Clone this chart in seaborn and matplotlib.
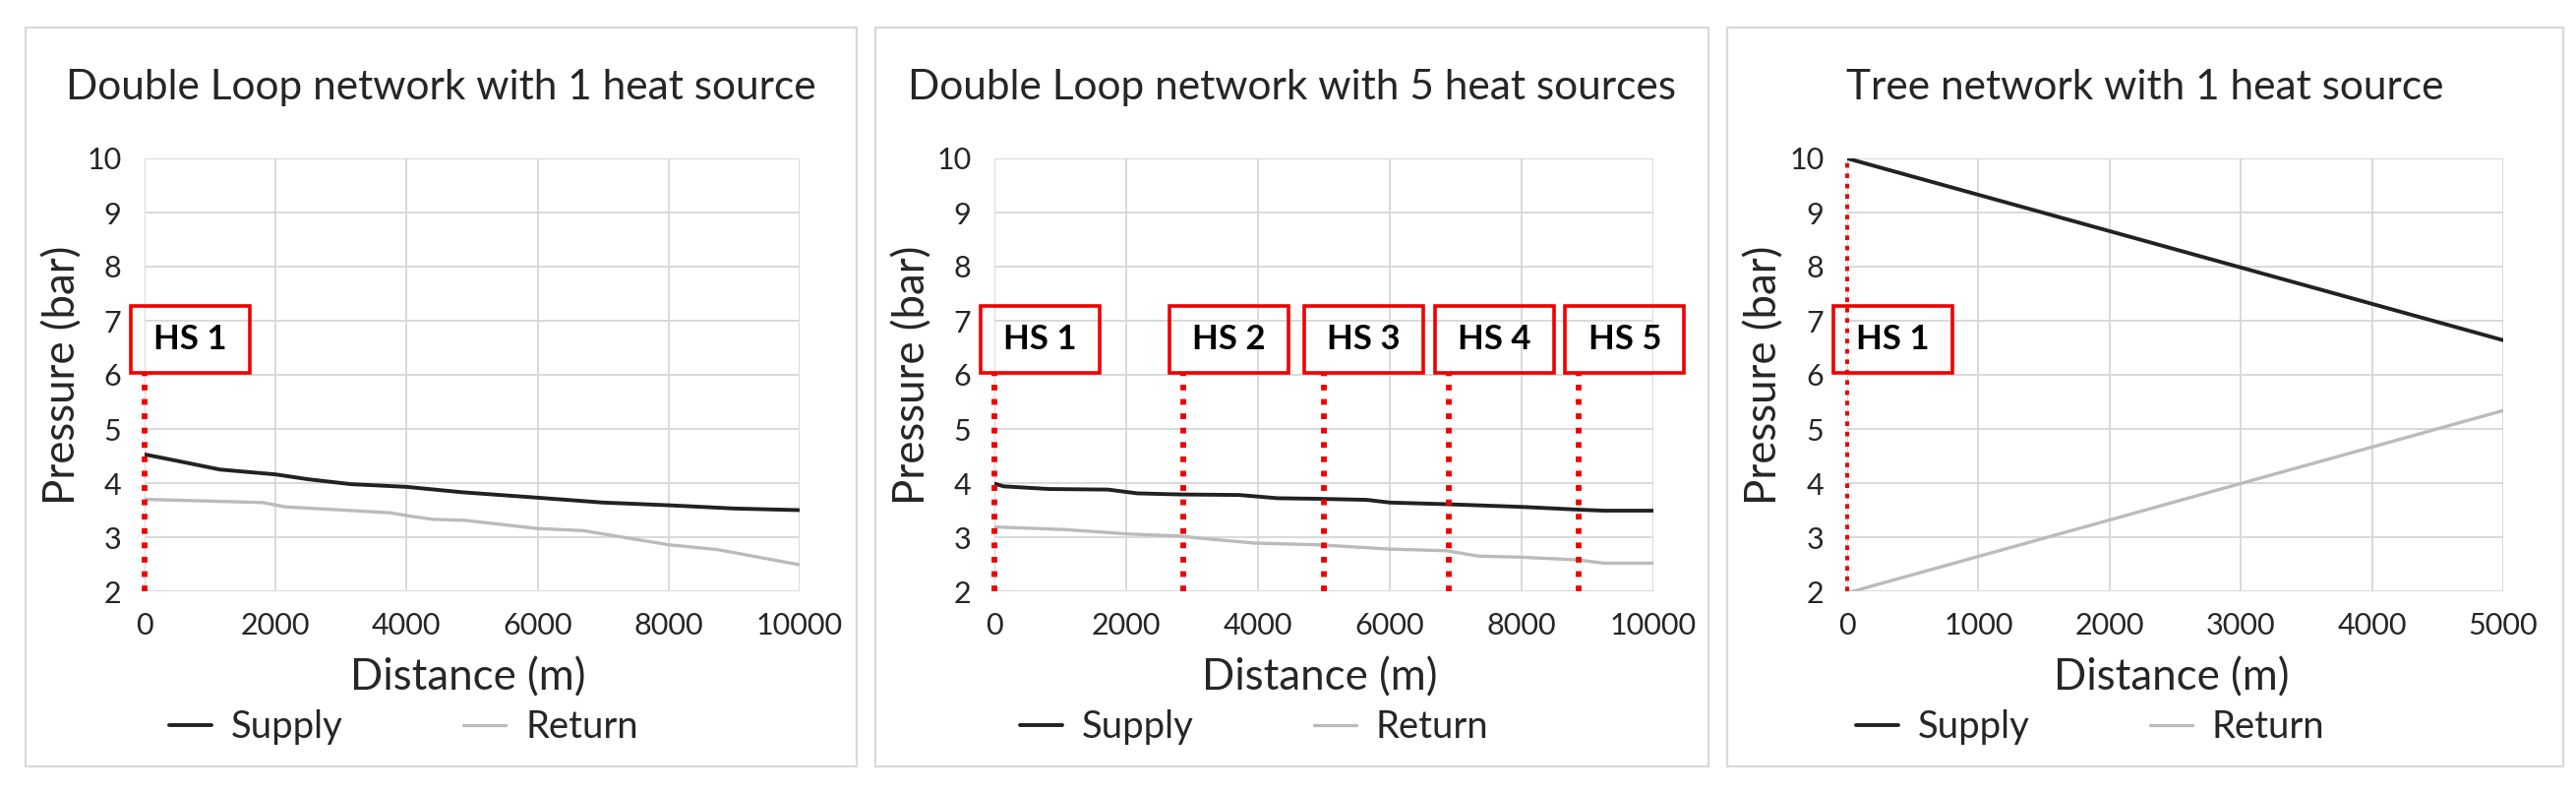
import numpy as np
import pandas as pd
import matplotlib
matplotlib.use("Agg")
import matplotlib.pyplot as plt
import seaborn as sns
from matplotlib.patches import Rectangle
from matplotlib.lines import Line2D

# ---------------- data ----------------
titles = ["Double Loop network with 1 heat source",
          "Double Loop network with 5 heat sources",
          "Tree network with 1 heat source"]

p1_sup_x = [0, 500, 1150, 2000, 2500, 3150, 4000, 4850, 6000, 7000, 8000, 9000, 10000]
p1_sup_y = [4.53, 4.41, 4.25, 4.16, 4.07, 3.98, 3.93, 3.83, 3.73, 3.64, 3.59, 3.53, 3.50]
p1_ret_x = [0, 900, 1800, 2150, 2900, 3750, 4050, 4400, 4900, 6000, 6700, 7350, 8000, 8750, 10000]
p1_ret_y = [3.70, 3.67, 3.64, 3.56, 3.51, 3.45, 3.39, 3.33, 3.31, 3.16, 3.12, 2.99, 2.86, 2.77, 2.49]

p2_sup_x = [0, 140, 830, 1720, 2170, 2810, 3710, 4300, 4900, 5650, 6000, 6850, 8000, 8850, 9250, 10000]
p2_sup_y = [3.99, 3.94, 3.89, 3.88, 3.81, 3.79, 3.78, 3.72, 3.71, 3.69, 3.64, 3.61, 3.56, 3.51, 3.49, 3.49]
p2_ret_x = [0, 1080, 2020, 2810, 3310, 3960, 4900, 6000, 6850, 7350, 8000, 8850, 9250, 10000]
p2_ret_y = [3.19, 3.14, 3.06, 3.02, 2.96, 2.89, 2.86, 2.78, 2.75, 2.65, 2.63, 2.58, 2.52, 2.52]

p3_sup_x = [0, 5000]
p3_sup_y = [10.0, 6.64]
p3_ret_x = [0, 5000]
p3_ret_y = [1.97, 5.34]

p1_hs_x = [0]
p2_hs_x = [0, 2870, 5000, 6890, 8870]
p3_hs_x = [0]
hs_labels = ["HS 1", "HS 2", "HS 3", "HS 4", "HS 5"]

p12_xticks = [0, 2000, 4000, 6000, 8000, 10000]
p3_xticks = [0, 1000, 2000, 3000, 4000, 5000]
yticks = [2, 3, 4, 5, 6, 7, 8, 9, 10]

series_names = ["Supply", "Return"]
x_label = "Distance (m)"
y_label = "Pressure (bar)"

# ---------------- style ----------------
sns.set_theme(style="white")
plt.rcParams["font.family"] = ["Lato", "DejaVu Sans"]

W, H = 2619, 805
fig = plt.figure(figsize=(W / 100, H / 100), dpi=100)
fig.patch.set_facecolor("white")

def fx(px):
    return px / W

def fy(py):
    return 1 - py / H

TXT = "#262626"
SUP_C = "#222222"
RET_C = "#BBBBBB"
GRID_C = "#D9D9D9"
RED = "#F00000"

panel_box = [(26, 871), (890, 1737), (1756, 2606)]
axes_px = [(147, 813), (1011, 1681), (1878, 2545)]
AX_TOP, AX_BOT = 161, 601
legend_x = [172, 1037, 1887]

panels = [
    dict(sx=p1_sup_x, sy=p1_sup_y, rx=p1_ret_x, ry=p1_ret_y, hs=p1_hs_x,
         xt=p12_xticks, xmax=10000, full_line=False),
    dict(sx=p2_sup_x, sy=p2_sup_y, rx=p2_ret_x, ry=p2_ret_y, hs=p2_hs_x,
         xt=p12_xticks, xmax=10000, full_line=False),
    dict(sx=p3_sup_x, sy=p3_sup_y, rx=p3_ret_x, ry=p3_ret_y, hs=p3_hs_x,
         xt=p3_xticks, xmax=5000, full_line=True),
]

title_fs = 30.5
tick_fs = 22
label_fs = 31.5
leg_fs = 27.5
hs_fs = 25

renderer = fig.canvas.get_renderer()
tmp = fig.text(0, 0, series_names[0], fontsize=leg_fs)
sup_w = tmp.get_window_extent(renderer).width
tmp.remove()
fs_px = leg_fs * 100 / 72

for i, p in enumerate(panels):
    # panel frame
    x0, x1 = panel_box[i]
    fig.add_artist(Rectangle((fx(x0), fy(779)), fx(x1) - fx(x0), fy(28) - fy(779),
                             transform=fig.transFigure, fill=False,
                             ec=GRID_C, lw=1.6, zorder=0))
    # title
    fig.text(fx((x0 + x1) / 2), fy(101), titles[i], ha="center", va="baseline",
             fontsize=title_fs, color=TXT)

    l, r = axes_px[i]
    ax = fig.add_axes([fx(l), fy(AX_BOT), fx(r) - fx(l), fy(AX_TOP) - fy(AX_BOT)])
    ax.set_facecolor("none")

    sup_df = pd.DataFrame({"x": p["sx"], "y": p["sy"]})
    ret_df = pd.DataFrame({"x": p["rx"], "y": p["ry"]})
    sns.lineplot(data=ret_df, x="x", y="y", ax=ax, color=RET_C, lw=2.4,
                 label=series_names[1], zorder=3)
    sns.lineplot(data=sup_df, x="x", y="y", ax=ax, color=SUP_C, lw=2.8,
                 label=series_names[0], zorder=4)

    ax.set_xlim(0, p["xmax"])
    ax.set_ylim(2, 10)
    ax.set_xticks(p["xt"])
    ax.set_xticklabels([str(v) for v in p["xt"]])
    ax.set_yticks(yticks)
    ax.set_yticklabels([str(v) for v in yticks])
    ax.grid(True, color=GRID_C, lw=1.4)
    ax.set_axisbelow(True)
    for s in ax.spines.values():
        s.set_visible(False)
    ax.tick_params(axis="both", length=0, labelsize=tick_fs, labelcolor=TXT)
    ax.tick_params(axis="y", pad=17)
    ax.tick_params(axis="x", pad=15)

    ax.set_xlabel(x_label, fontsize=label_fs, color=TXT)
    ax.xaxis.label.set_va("baseline")
    ax.xaxis.set_label_coords(0.5 - 4 / (r - l), -(701 - AX_BOT) / (AX_BOT - AX_TOP))
    ax.set_ylabel(y_label, fontsize=label_fs, color=TXT)
    ax.yaxis.label.set_va("center")
    ax.yaxis.set_label_coords(-(l - (x0 + 38)) / (r - l), 0.5)

    # heat source markers
    dx = p["xmax"] / (r - l)
    box_lo, box_hi = 6.03, 7.28
    if p["full_line"]:
        lw_dot, dash = 2.8, (0, (1.2, 1.5))
    else:
        lw_dot, dash = 4.2, (0, (1.0, 1.5))
    for k, hx in enumerate(p["hs"]):
        top = 10 if p["full_line"] else box_lo
        ax.plot([hx, hx], [2, top], color=RED, lw=lw_dot,
                ls=dash, dash_capstyle="butt", clip_on=False, zorder=5)
        off = 14 if k != 2 else 20
        bx = hx - off * dx
        ax.add_patch(Rectangle((bx, box_lo), 121 * dx, box_hi - box_lo,
                               fill=False, ec=RED, lw=2.6, clip_on=False, zorder=6))
        ax.text(bx + 60.5 * dx, (box_lo + box_hi) / 2, hs_labels[k], ha="center",
                va="center", fontsize=hs_fs, fontweight="bold", color="black",
                zorder=7)

    # legend
    handles = [Line2D([], [], color=SUP_C, lw=2.8), Line2D([], [], color=RET_C, lw=2.4)]
    colsp = (299 - 43 - 20 - sup_w) / fs_px
    ax.legend(handles, series_names, loc="center left",
              bbox_to_anchor=(fx(legend_x[i]), fy(739)), bbox_transform=fig.transFigure,
              ncol=2, frameon=False, borderpad=0, borderaxespad=0,
              handlelength=43 / fs_px, handletextpad=20 / fs_px,
              columnspacing=colsp, fontsize=leg_fs, labelcolor=TXT)

fig.savefig("out.png", dpi=100, facecolor="white")
